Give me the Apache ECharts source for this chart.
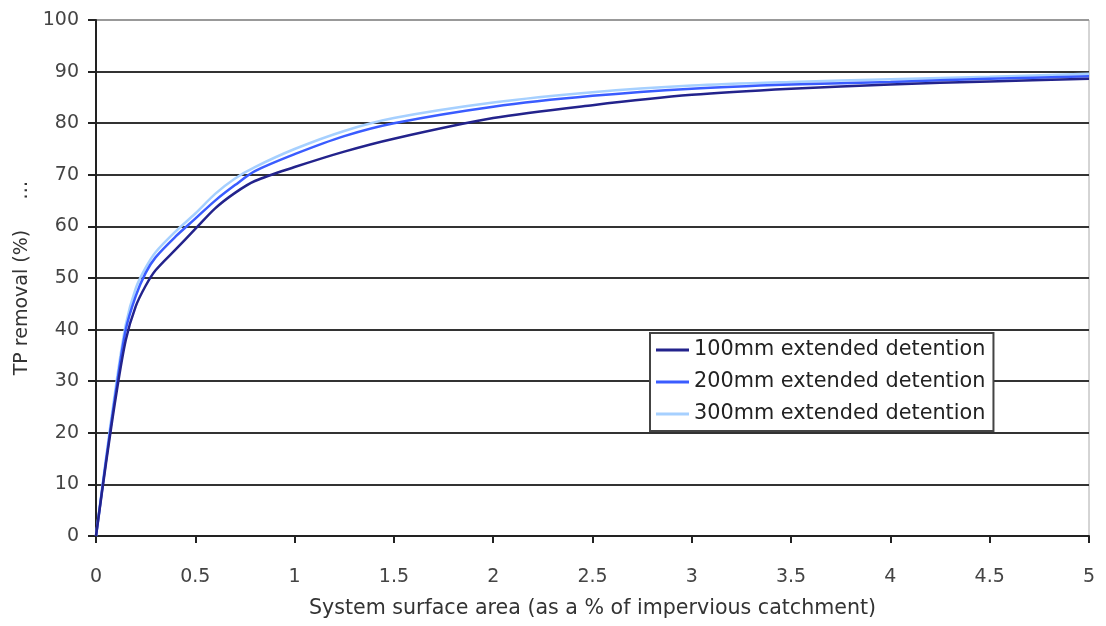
<!DOCTYPE html>
<html>
<head>
<meta charset="utf-8">
<script src="https://cdn.jsdelivr.net/npm/echarts@6/dist/echarts.min.js"></script>
<style>html,body{margin:0;padding:0;background:#fff}#c{width:1106px;height:626px}</style>
</head>
<body>
<div id="c"></div>
<script>
const xValues = [0, 0.05, 0.1, 0.15, 0.2, 0.25, 0.3, 0.4, 0.5, 0.6, 0.7, 0.8, 1, 1.25, 1.5, 2, 2.5, 3, 3.5, 4, 4.5, 5];
const s100 = [0, 14, 27, 38, 44.5, 48.5, 51.5, 55.5, 59.5, 63.5, 66.5, 68.8, 71.5, 74.5, 77, 81, 83.5, 85.5, 86.7, 87.5, 88.1, 88.6];
const s200 = [0, 14.5, 28, 40, 46.5, 51, 54, 58, 61.5, 65, 68, 70.7, 74, 77.5, 80, 83.2, 85.3, 86.7, 87.5, 88.0, 88.6, 89.1];
const s300 = [0, 15, 29, 41, 48, 52, 55, 59, 62.5, 66.3, 69.3, 71.5, 75, 78.5, 81, 84, 86, 87.3, 88, 88.5, 89, 89.6];
const seriesNames = ['100mm extended detention', '200mm extended detention', '300mm extended detention'];
const xTitle = 'System surface area (as a % of impervious catchment)';
const yTitle = 'TP removal (%)     \u2026';

const FONT = 'DejaVu Sans';
const colors = ['#23238c', '#3a5cff', '#a6d0ff'];
const pair = (ys) => xValues.map((x, i) => [x, ys[i]]);

const chart = echarts.init(document.getElementById('c'), null, {renderer: 'canvas'});
const gridColors = ['#333','#333','#333','#333','#333','#333','#333','#333','#333','#333','#999'];
chart.setOption({
  animation: false,
  backgroundColor: '#fff',
  textStyle: {fontFamily: FONT},
  grid: {left: 96, right: 17, top: 20, bottom: 90, show: true, borderColor: '#aaa', borderWidth: 1},
  legend: {
    orient: 'vertical',
    left: 650, top: 333,
    itemWidth: 33, itemHeight: 3, itemGap: 10,
    padding: [6, 8, 6, 6],
    borderColor: '#444', borderWidth: 2, backgroundColor: '#fff',
    icon: 'rect',
    textStyle: {fontFamily: FONT, fontSize: 20.8, color: '#222', lineHeight: 22},
    data: seriesNames
  },
  xAxis: {
    type: 'value', min: 0, max: 5, interval: 0.5,
    name: xTitle, nameLocation: 'middle', nameGap: 62,
    nameTextStyle: {fontFamily: FONT, fontSize: 20.6, color: '#333'},
    axisLine: {show: true, onZero: false, lineStyle: {color: '#222', width: 2}},
    axisTick: {show: true, inside: false, length: 7, lineStyle: {color: '#222', width: 2}},
    axisLabel: {fontFamily: FONT, fontSize: 19, color: '#444', margin: 32},
    splitLine: {show: false}
  },
  yAxis: {
    type: 'value', min: 0, max: 100, interval: 10,
    name: yTitle, nameLocation: 'middle', nameGap: 63, nameRotate: 90,
    nameTextStyle: {fontFamily: FONT, fontSize: 19, color: '#333'},
    axisLine: {show: true, lineStyle: {color: '#222', width: 2}},
    axisTick: {show: true, inside: false, length: 8, lineStyle: {color: '#222', width: 2}},
    axisLabel: {fontFamily: FONT, fontSize: 19, color: '#444', margin: 17},
    splitLine: {show: true, lineStyle: {color: gridColors, width: 2}}
  },
  series: seriesNames.map((n, i) => ({
    name: n, type: 'line', smooth: 0.3, symbol: 'none',
    data: pair([s100, s200, s300][i]),
    lineStyle: {color: colors[i], width: 2.5},
    itemStyle: {color: colors[i]},
    z: 10 - i
  }))
});
</script>
</body>
</html>
